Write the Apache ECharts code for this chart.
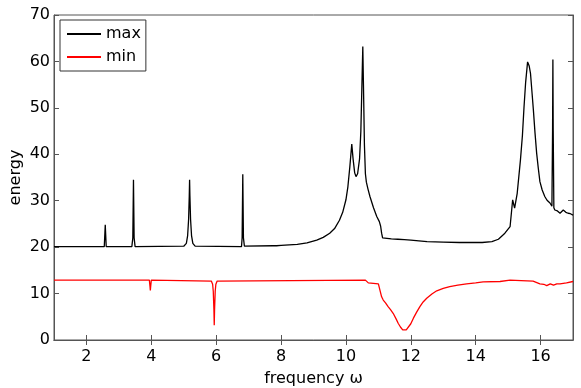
<!DOCTYPE html>
<html>
<head>
<meta charset="utf-8">
<script src="https://cdn.jsdelivr.net/npm/echarts@6/dist/echarts.min.js"></script>
<style>
  html, body { margin: 0; padding: 0; background: #fff; }
  #chart { width: 581px; height: 388px; }
</style>
</head>
<body>
<div id="chart"></div>
<script>
// 横轴刻度
var xTicks = [2, 4, 6, 8, 10, 12, 14, 16];

// max 曲线
var freqMax = [1, 2.55, 2.58, 2.61, 3.40, 3.43, 3.45, 3.47, 3.50,
    5.0, 5.08, 5.12, 5.15, 5.17, 5.18, 5.19, 5.21, 5.24, 5.28, 5.35,
    6.78, 6.80, 6.82, 6.84, 6.87, 7.75, 7.80, 7.86,
    8.0, 8.5, 8.8, 9.1, 9.3, 9.5, 9.65, 9.8, 9.9, 10.0, 10.06, 10.12, 10.18,
    10.22, 10.27, 10.31, 10.36, 10.42, 10.46, 10.49, 10.52, 10.54, 10.57, 10.6,
    10.63, 10.68, 10.74, 10.85, 10.95, 11.03, 11.07, 11.1, 11.13, 11.18,
    11.4, 11.6, 11.8, 12.0, 12.5, 13.0, 13.5, 14.2, 14.5, 14.7, 14.9, 15.06, 15.14, 15.2, 15.28,
    15.38, 15.44, 15.49, 15.54, 15.6, 15.65, 15.69, 15.74, 15.78, 15.83, 15.88, 15.93, 15.98,
    16.05, 16.13, 16.2, 16.29, 16.35, 16.37, 16.38, 16.39, 16.41, 16.44, 16.52, 16.6, 16.7,
    16.78, 16.85, 16.92, 17.0];
var energyMax = [20.1, 20.1, 24.8, 20.1, 20.1, 22, 34.5, 22, 20.1,
    20.2, 20.8, 22.5, 26, 31, 34.5, 31, 26, 22.5, 20.8, 20.2,
    20.1, 22, 35.7, 22, 20.2, 20.3, 20.7, 20.3,
    20.4, 20.6, 20.9, 21.5, 22.1, 23, 24, 25.8, 27.5, 30.2, 33, 37.3, 42.2,
    39, 36, 35.2, 35.8, 39, 45, 54, 63.2, 55, 42, 35.8,
    34, 32.5, 30.9, 28.5, 26.6, 25.5, 24.5, 23, 22, 21.6,
    21.8, 21.7, 21.6, 21.5, 21.2, 21.1, 21.0, 21.0, 21.2, 21.7, 23, 24.4, 30.2, 28.4, 31.6,
    38.8, 44, 50.2, 55.5, 59.9, 59, 57.4, 53, 49.4, 44.5, 40.2, 37, 34.1,
    32.3, 30.9, 30.1, 29.5, 28.8, 45, 60.4, 45, 28.5, 28, 27.8, 27.3, 28,
    27.5, 27.3, 27.2, 26.9];

// min 曲线
var freqMin = [1, 3.94, 3.96, 3.97, 3.98, 4.0,
    5.85, 5.89, 5.91, 5.93, 5.94, 5.95, 5.97, 5.99, 6.03,
    10.6, 10.69, 11.0, 11.1, 11.15, 11.22, 11.3, 11.38, 11.46, 11.55, 11.61, 11.68, 11.75, 11.8,
    11.86, 11.92, 12.0, 12.08, 12.18, 12.28, 12.38, 12.49, 12.65, 12.8, 13.0, 13.2, 13.45, 13.72,
    14.0, 14.23, 14.75, 15.06, 15.4, 15.77, 15.98, 16.1, 16.19, 16.3, 16.35, 16.4, 16.5, 16.6, 16.8, 17.0];
var energyMin = [12.9, 12.9, 11.5, 10.7, 11.5, 12.9,
    12.7, 12, 10.5, 6.5, 3.2, 6.5, 10.5, 12, 12.7,
    12.9, 12.3, 12.1, 9.3, 8.6, 8, 7.2, 6.5, 5.7, 4.5, 3.6, 2.8, 2.2, 2.1,
    2.2, 2.6, 3.5, 4.7, 6, 7.2, 8.2, 9, 9.9, 10.6, 11.1, 11.5, 11.8, 12.1,
    12.3, 12.5, 12.6, 12.9, 12.8, 12.7, 12.1, 12.0, 11.7, 12.1, 12.4, 11.8, 12.1, 12.1, 12.3, 12.6];

var zip = function(xs, ys) {
    var list = [];
    for (var i = 0; i < xs.length; i++) {
        list.push([xs[i], ys[i]]);
    }
    return list;
};

var font = 'DejaVu Sans, sans-serif';
var axisColor = '#555';

var chart = echarts.init(document.getElementById('chart'));
chart.setOption({
    animation: false,
    grid: {
        left: 54, right: 8, top: 15, bottom: 48,
        containLabel: false, outerBoundsMode: 'none',
        show: true, borderColor: axisColor, borderWidth: 1
    },
    legend: {
        left: 60, top: 20,
        orient: 'vertical',
        itemWidth: 34, itemHeight: 2, itemGap: 7,
        icon: 'rect',
        borderColor: '#333', borderWidth: 1,
        padding: [6, 5, 6, 7],
        backgroundColor: '#fff',
        textStyle: { fontFamily: font, fontSize: 16, lineHeight: 16, color: '#000' },
        data: ['max', 'min']
    },
    xAxis: [{
        type: 'value', min: 1, max: 17,
        name: 'frequency ω', nameLocation: 'middle', nameGap: 31,
        nameTextStyle: { fontFamily: font, fontSize: 16, color: '#000' },
        splitLine: { show: false },
        axisLine: { lineStyle: { color: axisColor } },
        axisTick: { inside: true, length: 5, customValues: xTicks, lineStyle: { color: axisColor } },
        axisLabel: { customValues: xTicks, fontFamily: font, fontSize: 16, color: '#000', margin: 9 }
    }, {
        type: 'value', min: 1, max: 17, position: 'top',
        splitLine: { show: false },
        axisLine: { lineStyle: { color: axisColor } },
        axisTick: { inside: true, length: 5, customValues: xTicks, lineStyle: { color: axisColor } },
        axisLabel: { show: false }
    }],
    yAxis: [{
        type: 'value', min: 0, max: 70, interval: 10,
        name: 'energy', nameLocation: 'middle', nameGap: 30, nameMoveOverlap: false,
        nameTextStyle: { fontFamily: font, fontSize: 16, color: '#000' },
        splitLine: { show: false },
        axisLine: { lineStyle: { color: axisColor } },
        axisTick: { inside: true, length: 5, lineStyle: { color: axisColor } },
        axisLabel: { fontFamily: font, fontSize: 16, color: '#000', margin: 4 }
    }, {
        type: 'value', min: 0, max: 70, interval: 10, position: 'right',
        splitLine: { show: false },
        axisLine: { show: true, lineStyle: { color: axisColor } },
        axisTick: { show: true, inside: true, length: 5, lineStyle: { color: axisColor } },
        axisLabel: { show: false }
    }],
    series: [{
        name: 'max', type: 'line', showSymbol: false, symbol: 'none',
        lineStyle: { color: '#000', width: 1.3 }, itemStyle: { color: '#000' },
        data: zip(freqMax, energyMax)
    }, {
        name: 'min', type: 'line', showSymbol: false, symbol: 'none',
        lineStyle: { color: '#ff0000', width: 1.3 }, itemStyle: { color: '#ff0000' },
        data: zip(freqMin, energyMin)
    }]
});
</script>
</body>
</html>
